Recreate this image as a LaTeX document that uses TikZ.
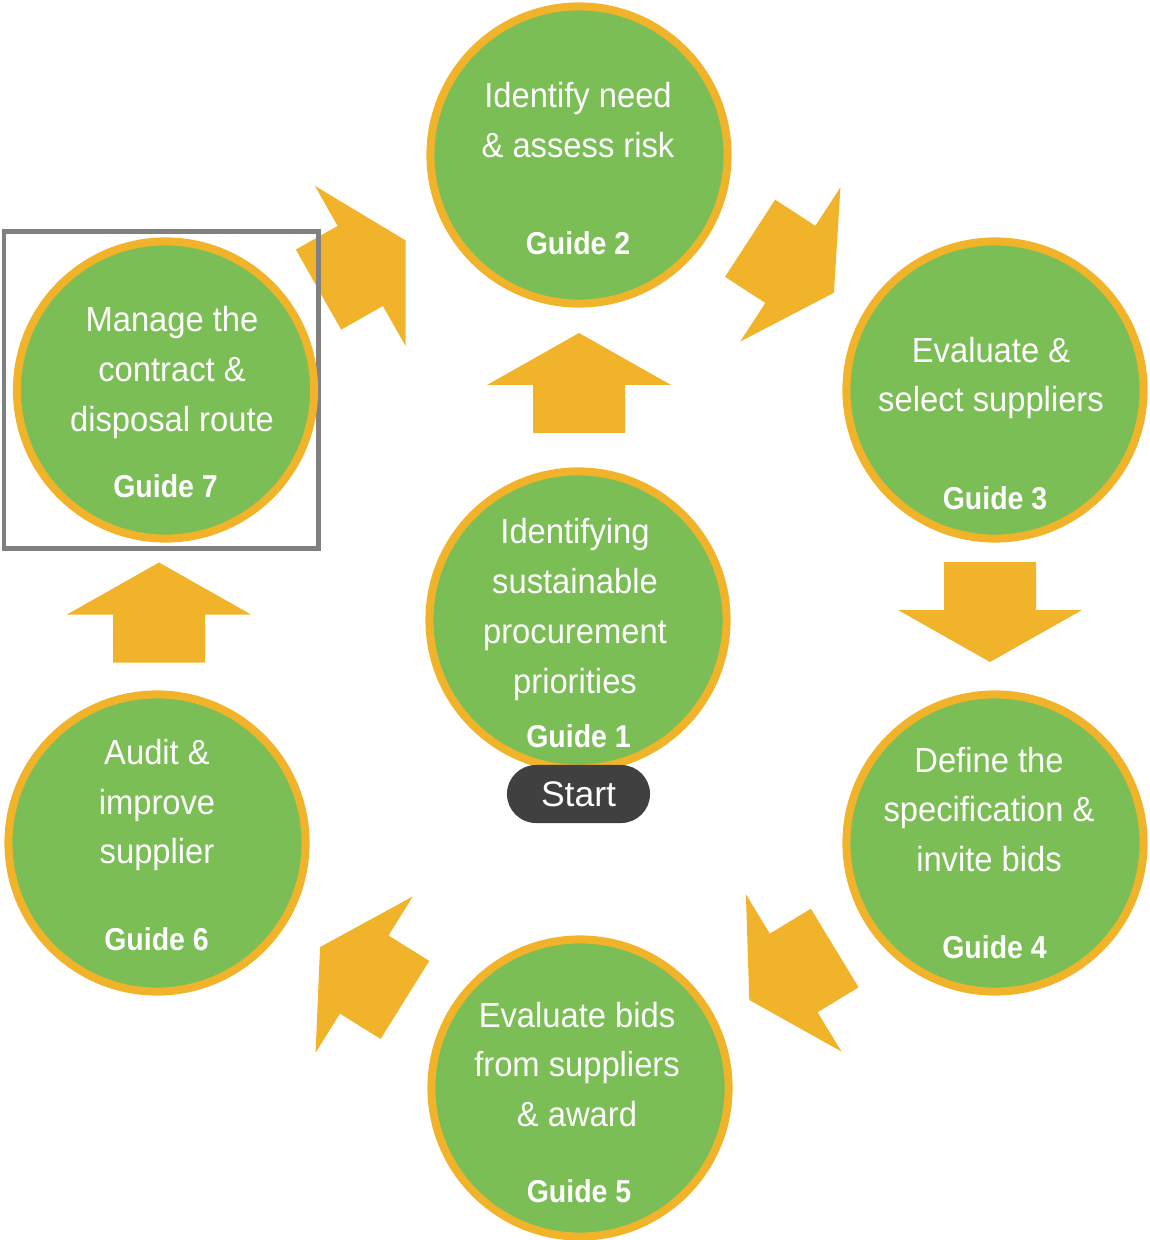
\documentclass[tikz,border=0pt]{standalone}
\usepackage{fontspec}
\setmainfont{Liberation Sans}
\newfontfamily\stepfont[FakeStretch=0.94]{Liberation Sans}
\newfontfamily\guidefont[FakeStretch=0.9]{Liberation Sans}
\usepackage{tikz}

\definecolor{stepgreen}{RGB}{124,190,86}
\definecolor{steporange}{RGB}{241,179,42}
\definecolor{startgray}{RGB}{64,64,64}
\definecolor{framegray}{RGB}{128,128,128}

\tikzset{
    stepcircle/.style={circle, draw=steporange, fill=stepgreen, line width=0.08cm, minimum size=2.97cm, inner sep=0pt},
    steptext/.style={text=white, align=center, font=\stepfont\fontsize{9.9}{14.2}\selectfont},
    guidetext/.style={text=white, anchor=base, font=\guidefont\bfseries\fontsize{9}{10}\selectfont},
    startpill/.style={fill=startgray, rounded corners=0.29cm, minimum width=1.43cm, minimum height=0.58cm, inner sep=0pt, text=white, font=\fontsize{10.1}{12}\selectfont},
    blockarrow/.pic={
        \fill[steporange] (-50,-46) -- (-2,-46) -- (-2,-92) -- (50,0) -- (-2,92) -- (-2,46) -- (-50,46) -- cycle;
    }
}

\begin{document}
\begin{tikzpicture}[x=0.01cm, y=-0.01cm]
    \useasboundingbox (0,0) rectangle (1149,1240);
    % Draw the arrows between the steps
    \foreach \x/\y/\a in {579/383/90, 362/265/29.5, 792/265.5/-33, 990/612/-90,
                          792/974/-148.7, 362.5/973.5/148.1, 159/612.5/90}{
        \pic[rotate=\a] at (\x,\y) {blockarrow};
    }
    % Draw the frame round step 7
    \draw[framegray, line width=0.045cm] (4,231.5) rectangle (318.5,548.5);
    % Draw the step circles
    \foreach \name/\x/\y in {g1/578/620, g2/579/155, g3/995/390, g4/995/843,
                             g5/580/1088, g6/157/843, g7/165.5/390}{
        \node[stepcircle] (\name) at (\x,\y) {};
    }
    % Draw the step texts
    \node[steptext] (t1) at (575,609.5) {Identifying\\sustainable\\procurement\\priorities};
    \node[steptext] (t2) at (578,120.5) {Identify need\\\& assess risk};
    \node[steptext] (t3) at (991,378) {Evaluate \&\\select suppliers};
    \node[steptext] (t4) at (989,809.5) {Define the\\specification \&\\invite bids};
    \node[steptext] (t5) at (577,1064.5) {Evaluate bids\\from suppliers\\\& award};
    \node[steptext] (t6) at (157,805) {Audit \&\\improve\\supplier};
    \node[steptext] (t7) at (172,372.5) {Manage the\\contract \&\\disposal route};
    % Draw the guide labels
    \foreach \n/\x/\y in {1/578.5/747, 2/578/255, 3/995/509, 4/994.5/958,
                          5/579/1202, 6/156.5/950, 7/165.5/498}{
        \node[guidetext] (l\n) at (\x,\y) {Guide \n};
    }
    % Draw the start label
    \node[startpill] (start) at (578.5,794) {Start};
\end{tikzpicture}
\end{document}
